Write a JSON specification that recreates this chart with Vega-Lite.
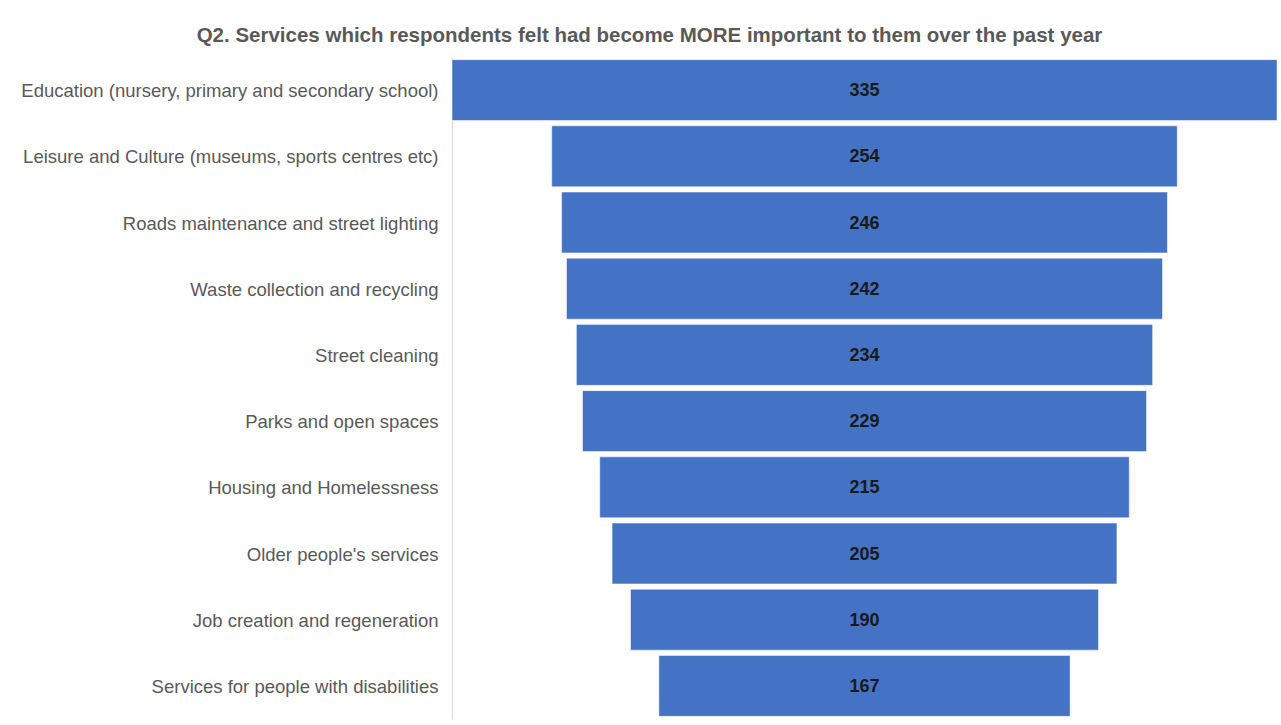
{
  "$schema": "https://vega.github.io/schema/vega-lite/v6.json",
  "autosize": "none",
  "width": 825,
  "height": 662,
  "padding": {"left": 452, "top": 57, "right": 4, "bottom": 6},
  "background": "white",
  "config": {"view": {"stroke": null}, "font": "Liberation Sans"},
  "title": {
    "text": "Q2. Services which respondents felt had become MORE important to them over the past year",
    "font": "Liberation Sans",
    "fontSize": 20.5,
    "fontWeight": "bold",
    "color": "#595959",
    "anchor": "middle",
    "dx": -215,
    "offset": 11
  },
  "data": {
    "values": [
      {"service": "Education (nursery, primary and secondary school)", "count": 335},
      {"service": "Leisure and Culture (museums, sports centres etc)", "count": 254},
      {"service": "Roads maintenance and street lighting", "count": 246},
      {"service": "Waste collection and recycling", "count": 242},
      {"service": "Street cleaning", "count": 234},
      {"service": "Parks and open spaces", "count": 229},
      {"service": "Housing and Homelessness", "count": 215},
      {"service": "Older people's services", "count": 205},
      {"service": "Job creation and regeneration", "count": 190},
      {"service": "Services for people with disabilities", "count": 167}
    ]
  },
  "encoding": {
    "y": {
      "field": "service",
      "type": "nominal",
      "sort": null,
      "scale": {"paddingInner": 0.08, "paddingOuter": 0.04},
      "axis": {
        "title": null,
        "ticks": false,
        "labelFontSize": 18.5,
        "labelColor": "#595959",
        "labelFont": "Liberation Sans",
        "labelPadding": 14,
        "labelLimit": 450,
        "labelOffset": 1,
        "domainColor": "#d9d9d9",
        "domainWidth": 1
      }
    }
  },
  "layer": [
    {
      "mark": {"type": "bar", "color": "#4472C4", "stroke": "#ffffff", "strokeWidth": 0.5},
      "encoding": {
        "x": {
          "field": "count",
          "type": "quantitative",
          "stack": "center",
          "scale": {"domain": [0, 335], "nice": false, "zero": false},
          "axis": null
        }
      }
    },
    {
      "mark": {"type": "text", "fontWeight": "bold", "fontSize": 18, "dy": 1, "color": "#1a1a1a", "font": "Liberation Sans"},
      "encoding": {
        "x": {"datum": 167.5, "type": "quantitative"},
        "text": {"field": "count", "type": "quantitative"}
      }
    }
  ]
}
